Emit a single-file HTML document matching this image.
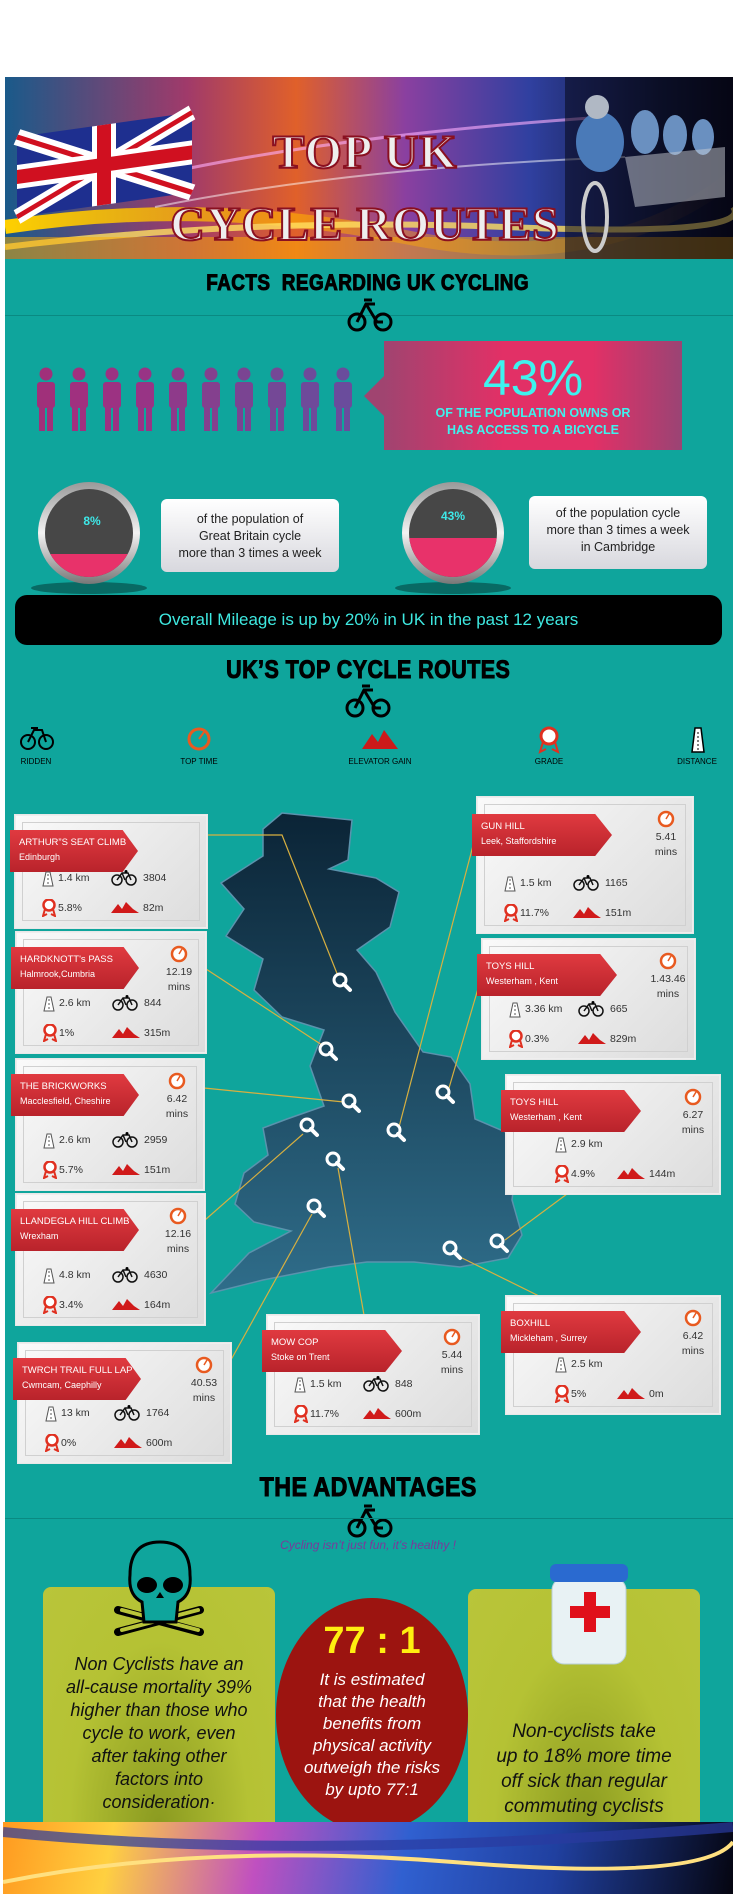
<!DOCTYPE html>
<html><head><meta charset="utf-8">
<style>
*{margin:0;padding:0;box-sizing:border-box}
body{width:736px;height:1900px;background:#fff;position:relative;overflow:hidden;font-family:"Liberation Sans",sans-serif}
.abs{position:absolute}
.teal{left:5px;top:257px;width:728px;height:1570px;background:#0fa59c}
.hd{position:absolute;left:0;width:736px;text-align:center;color:#000}
.hd span{display:inline-block;font-family:"Liberation Sans",sans-serif;font-weight:bold;-webkit-text-stroke:1px #000;transform:scaleX(0.86);letter-spacing:0.5px}
.card{position:absolute;background:linear-gradient(135deg,#fafafa,#dcdcdc);border:1px solid #eee;box-shadow:0 0 0 1px #e8e8e8}
.card .inner{position:absolute;left:6px;top:6px;right:6px;bottom:6px;border:1px solid #d0d0d0}
.rib{position:absolute;left:-6px;height:42px;background:linear-gradient(#e03a40,#b9232b);color:#fff;padding:6px 0 0 9px;font-size:9.5px;line-height:14px;white-space:nowrap;clip-path:polygon(0 0,88% 0,100% 50%,88% 100%,0 100%)}
.rib b{font-weight:normal;display:block}
.rib span{font-size:9px}
.cv{position:absolute;font-size:10.5px;color:#333}
.tm{position:absolute;width:40px;text-align:center;font-size:10.5px;line-height:15px;color:#333}
.bub{position:absolute;background:linear-gradient(#fff,#d8d8de);border-radius:6px;text-align:center;color:#222;font-size:12.5px;line-height:17px}
.gbox{position:absolute;background:radial-gradient(ellipse at 50% 100%,#8a9a20,#b5c234 55%,#b9c53a);border-radius:8px;text-align:center;font-family:"Liberation Sans",sans-serif;font-style:italic;color:#111;font-size:18px;line-height:23px;white-space:nowrap}
</style></head><body>
<div class="abs teal"></div>

<div class="abs" style="left:5px;top:77px;width:728px;height:182px;overflow:hidden;background:linear-gradient(90deg,#1a5a8a 0%,#a03a6a 25%,#e0602a 40%,#8a40a0 55%,#3040a0 72%,#101838 90%,#050510 100%)">
 <svg width="728" height="182" style="position:absolute;left:0;top:0">
  <defs><linearGradient id="yl" x1="0" x2="1"><stop offset="0" stop-color="#ffd000"/><stop offset="1" stop-color="#ff8000" stop-opacity="0"/></linearGradient></defs>
  <path d="M0 150 Q200 120 400 160 T728 100" stroke="url(#yl)" stroke-width="14" fill="none"/>
  <path d="M0 170 Q250 140 500 150 T728 130" stroke="#ffe060" stroke-width="6" fill="none" opacity=".8"/>
  <path d="M100 110 Q300 60 600 40" stroke="#ffb0ff" stroke-width="3" fill="none" opacity=".6"/>
  <path d="M150 130 Q350 90 620 80" stroke="#ffffff" stroke-width="2" fill="none" opacity=".5"/>
  <rect x="0" y="160" width="728" height="22" fill="#ffb000" opacity=".5"/>
  <g transform="translate(12,60) skewY(-8)">
   <rect width="175" height="80" fill="#1e2f8f"/>
   <path d="M0 0L175 80M175 0L0 80" stroke="#fff" stroke-width="16"/>
   <path d="M0 0L175 80M175 0L0 80" stroke="#d01020" stroke-width="5"/>
   <path d="M87 0V80M0 40H175" stroke="#fff" stroke-width="24"/>
   <path d="M87 0V80M0 40H175" stroke="#d01020" stroke-width="14"/>
  </g>
  <g>
   <rect x="560" y="0" width="168" height="182" fill="#080818" opacity=".55"/>
   <ellipse cx="595" cy="65" rx="24" ry="30" fill="#4a7ab8"/>
   <circle cx="592" cy="30" r="12" fill="#b0b8c4"/>
   <ellipse cx="590" cy="140" rx="12" ry="34" fill="none" stroke="#ccc" stroke-width="4"/>
   <ellipse cx="640" cy="55" rx="14" ry="22" fill="#6a90c0"/>
   <ellipse cx="670" cy="58" rx="12" ry="20" fill="#6a90c0"/>
   <ellipse cx="698" cy="60" rx="11" ry="18" fill="#6a90c0"/>
   <path d="M620 80L720 70L720 120L630 130Z" fill="#c8ccd4" opacity=".5"/>
  </g>
 </svg>
 <div style="position:absolute;left:150px;width:420px;text-align:center;top:40px;font-family:'Liberation Serif',serif;font-weight:bold;color:#eee;font-size:48px;line-height:72px;-webkit-text-stroke:2px #8a1020;letter-spacing:1px">TOP UK<br>CYCLE ROUTES</div>
</div>

<div class="hd" style="top:270px;font-size:22px"><span>FACTS &nbsp;REGARDING UK CYCLING</span></div>
<div class="abs" style="left:5px;top:315px;width:728px;height:1px;background:#0a8a82"></div>

<svg class="abs" style="left:0;top:0" width="736" height="1900">
 <defs>
 <g id="bk" fill="none" stroke="#000" stroke-width="3">
  <circle cx="-13" cy="8" r="8"/><circle cx="13" cy="8" r="8"/><path d="M-13 8L-4 -10L5 -10M-4 -10L7 8L13 8M-6 -14L2 -14"/>
 </g>
 </defs>
 <use href="#bk" x="370" y="314"/>
 <use href="#bk" x="368" y="700"/>
 <use href="#bk" x="370" y="1520"/>
</svg>

<svg class="abs" style="left:0;top:360px" width="360" height="80" id="people"></svg>

<div class="abs" style="left:384px;top:341px;width:298px;height:109px;background:linear-gradient(90deg,#a04470,#e23066 40%,#e23066 70%,#9a4474)">
 <div style="position:absolute;left:-20px;top:35px;width:0;height:0;border-top:20px solid transparent;border-bottom:20px solid transparent;border-right:20px solid #a04470"></div>
 <div style="text-align:center;color:#3ef2ee;font-size:50px;line-height:50px;margin-top:12px">43%</div>
 <div style="text-align:center;color:#3ef2ee;font-size:12.5px;font-weight:bold;line-height:17px;margin-top:2px">OF THE POPULATION OWNS OR<br>HAS ACCESS TO A BICYCLE</div>
</div>

<svg class="abs" style="left:0;top:470px" width="736" height="130">
 <defs>
  <linearGradient id="ring" x1="0" y1="0" x2="0" y2="1"><stop offset="0" stop-color="#999"/><stop offset=".5" stop-color="#f2f2f2"/><stop offset="1" stop-color="#777"/></linearGradient>
  <clipPath id="c1"><circle cx="89" cy="63" r="44"/></clipPath>
  <clipPath id="c2"><circle cx="453" cy="63" r="44"/></clipPath>
 </defs>
 <ellipse cx="89" cy="118" rx="58" ry="6" fill="#086a64"/>
 <ellipse cx="453" cy="118" rx="58" ry="6" fill="#086a64"/>
 <circle cx="89" cy="63" r="51" fill="url(#ring)"/>
 <circle cx="89" cy="63" r="44" fill="#474747"/>
 <rect x="40" y="84" width="100" height="40" fill="#e8326a" clip-path="url(#c1)"/>
 <circle cx="453" cy="63" r="51" fill="url(#ring)"/>
 <circle cx="453" cy="63" r="44" fill="#474747"/>
 <rect x="400" y="68" width="100" height="60" fill="#e8326a" clip-path="url(#c2)"/>
 <text x="92" y="55" fill="#3ee8e8" font-size="12" font-weight="bold" text-anchor="middle" font-family="Liberation Sans">8%</text>
 <text x="453" y="50" fill="#3ee8e8" font-size="12" font-weight="bold" text-anchor="middle" font-family="Liberation Sans">43%</text>
</svg>
<div class="bub" style="left:161px;top:499px;width:178px;height:73px;padding-top:12px">of the population of<br>Great Britain cycle<br>more than 3 times a week</div>
<div class="bub" style="left:529px;top:496px;width:178px;height:73px;padding-top:9px">of the population cycle<br>more than 3 times a week<br>in Cambridge</div>

<div class="abs" style="left:15px;top:595px;width:707px;height:50px;background:#000;border-radius:12px;color:#3ee8e0;font-size:17px;text-align:center;line-height:50px">Overall Mileage is up by 20% in UK in the past 12 years</div>

<div class="hd" style="top:656px;font-size:25px"><span>UK’S TOP CYCLE ROUTES</span></div>

<svg class="abs" style="left:0;top:722px" width="736" height="50" font-family="Liberation Sans" font-size="8" text-anchor="middle">
 <g fill="none" stroke="#000" stroke-width="2"><circle cx="28" cy="20" r="7"/><circle cx="46" cy="20" r="7"/><path d="M28 20L34 8L42 8L46 20M31 6L38 6"/></g>
 <text x="36" y="42">RIDDEN</text>
 <circle cx="199" cy="17" r="10" fill="none" stroke="#e85a20" stroke-width="3"/><path d="M199 17L204 10" stroke="#e85a20" stroke-width="2"/>
 <text x="199" y="42">TOP TIME</text>
 <path d="M362 27L372 12L378 20L384 8L398 27Z" fill="#cc1a1a"/>
 <text x="380" y="42">ELEVATOR GAIN</text>
 <circle cx="549" cy="14" r="8" fill="#fff" stroke="#e03020" stroke-width="3"/><path d="M543 20L540 30L546 27M555 20L558 30L552 27" stroke="#e03020" stroke-width="2" fill="none"/>
 <text x="549" y="42">GRADE</text>
 <path d="M692 30L695 6L701 6L704 30Z" fill="#fff" stroke="#000" stroke-width="1.5"/><path d="M698 10V28" stroke="#000" stroke-dasharray="2 2"/>
 <text x="697" y="42">DISTANCE</text>
</svg>

<svg class="abs" style="left:0;top:0" width="736" height="1900" id="mapsvg">
 <defs><linearGradient id="mg" x1="0" y1="0" x2="0" y2="1"><stop offset="0" stop-color="#0b2436"/><stop offset="1" stop-color="#2f6d8a"/></linearGradient></defs>
 <path fill="url(#mg)" stroke="#5a93ad" stroke-width="1.5" d="M282 813L352 820L348 860L329 869L376 878L399 892L390 927L357 950L376 972L395 1012L423 1052L451 1057L470 1084L475 1119L508 1133L517 1159L512 1200L522 1235L508 1258L460 1267L414 1262L367 1262L329 1267L263 1280L211 1293L249 1253L291 1231L254 1222L235 1204L244 1173L268 1155L263 1128L287 1119L324 1106L310 1066L324 1030L282 1017L254 990L263 959L226 936L244 909L221 883L263 856L263 829Z"/>
 <g id="lines" stroke="#d8b040" stroke-width="1.2" fill="none"></g>
 <g id="pins"></g>
</svg>

<div id="cards"></div>

<div class="hd" style="top:1472px;font-size:27px"><span>THE ADVANTAGES</span></div>
<div class="abs" style="left:5px;top:1518px;width:728px;height:1px;background:#0a8a82"></div>
<div class="abs" style="left:0;width:736px;top:1538px;text-align:center;color:#7a3a9a;font-size:12px;font-style:italic">Cycling isn’t just fun, it’s healthy !</div>

<div class="gbox" style="left:43px;top:1587px;width:232px;height:243px;padding-top:66px">Non Cyclists have an<br>all-cause mortality 39%<br>higher than those who<br>cycle to work, even<br>after taking other<br>factors into<br>consideration·</div>
<div class="gbox" style="left:468px;top:1589px;width:232px;height:243px;padding-top:130px;font-size:19px;line-height:25px">Non-cyclists take<br>up to 18% more time<br>off sick than regular<br>commuting cyclists</div>

<svg class="abs" style="left:100px;top:1540px" width="120" height="100">
 <path d="M18 70L100 92M100 70L18 92" stroke="#000" stroke-width="8" stroke-linecap="round"/>
 <path d="M22 70L98 90M98 70L22 90" stroke="#b9c53a" stroke-width="4" stroke-linecap="round"/>
 <path d="M30 35Q30 2 60 2Q90 2 90 35Q92 55 78 62L76 82L44 82L42 62Q28 55 30 35Z" fill="#0fa59c" stroke="#000" stroke-width="3"/>
 <ellipse cx="47" cy="45" rx="10" ry="8" fill="#000"/><ellipse cx="73" cy="45" rx="10" ry="8" fill="#000"/>
 <path d="M56 58L60 52L64 58Z" fill="#000"/>
</svg>
<svg class="abs" style="left:548px;top:1562px" width="82" height="104">
 <rect x="4" y="16" width="74" height="86" rx="12" fill="#e8f2f4" stroke="#b8cfd6"/>
 <rect x="2" y="2" width="78" height="18" rx="6" fill="#2a6ad0"/>
 <path d="M28 42h14v-14h12v14h14v12h-14v14h-12v-14h-14z" transform="translate(-6,2)" fill="#e0101a"/>
</svg>

<svg class="abs" style="left:275px;top:1597px" width="194" height="236">
 <ellipse cx="97" cy="118" rx="96" ry="117" fill="#9c1410"/>
 <text x="97" y="56" fill="#ffee10" font-size="38" font-weight="bold" text-anchor="middle" font-family="Liberation Sans">77 : 1</text>
 <g fill="#fff" font-size="17" font-style="italic" text-anchor="middle" font-family="Liberation Sans">
  <text x="97" y="88">It is estimated</text><text x="97" y="110">that the health</text><text x="97" y="132">benefits from</text><text x="97" y="154">physical activity</text><text x="97" y="176">outweigh the risks</text><text x="97" y="198">by upto 77:1</text>
 </g>
</svg>

<div class="abs" style="left:3px;top:1822px;width:730px;height:72px;background:linear-gradient(100deg,#ff9a20 0%,#ffd040 15%,#c050c0 35%,#3060d0 55%,#2040a0 75%,#050510 100%)">
 <svg width="730" height="72"><path d="M0 60Q200 20 450 40T730 20" stroke="#ffe080" stroke-width="4" fill="none"/><path d="M0 10Q300 40 730 5" stroke="#2a3aa0" stroke-width="10" fill="none" opacity=".7"/></svg>
</div>

<script>
const peopleCount = [1,2,3,4,5,6,7,8,9,10];
const peopleColors = ['#a0307a','#a0307f','#9c3282','#983485','#8e3a8a','#84408e','#7a4492','#744896','#6e4a9a','#6a4c9c'];
const ps = document.getElementById('people');
peopleCount.forEach((p,i)=>{
  const cx = 46 + i*33;
  const g = document.createElementNS('http://www.w3.org/2000/svg','g');
  
  
  g.setAttribute('fill',peopleColors[i]);
  g.innerHTML = `<circle cx="${cx}" cy="14" r="6.5"/><rect x="${cx-9}" y="22" width="18" height="26" rx="3"/><rect x="${cx-7}" y="44" width="6" height="27"/><rect x="${cx+1}" y="44" width="6" height="27"/>`;
  ps.appendChild(g);
});

const routeNames = ["ARTHUR\u201DS SEAT CLIMB","HARDKNOTT's PASS","THE BRICKWORKS","LLANDEGLA HILL CLIMB","TWRCH TRAIL FULL LAP","MOW COP","GUN HILL","TOYS HILL","TOYS HILL","BOXHILL"];
const routePlaces = ["Edinburgh","Halmrook,Cumbria","Macclesfield, Cheshire","Wrexham","Cwmcam, Caephilly","Stoke on Trent","Leek, Staffordshire","Westerham , Kent","Westerham , Kent","Mickleham , Surrey"];
const routeTimes = ["","12.19","6.42","12.16","40.53","5.44","5.41","1.43.46","6.27","6.42"];
const routeDistance = ["1.4 km","2.6 km","2.6 km","4.8 km","13 km","1.5 km","1.5 km","3.36 km","2.9 km","2.5 km"];
const routeRidden = ["3804","844","2959","4630","1764","848","1165","665","",""];
const routeGrade = ["5.8%","1%","5.7%","3.4%","0%","11.7%","11.7%","0.3%","4.9%","5%"];
const routeElev = ["82m","315m","151m","164m","600m","600m","151m","829m","144m","0m"];
const boxes = [[15,815,192,113],[16,932,190,121],[16,1059,188,131],[16,1194,189,131],[18,1343,213,120],[267,1315,212,119],[477,797,216,136],[482,939,213,120],[506,1075,214,119],[506,1296,214,118]];
const pins = [[343,983],[329,1052],[352,1104],[310,1128],[397,1133],[446,1095],[336,1162],[317,1209],[453,1251],[500,1244]];
const links = [["207,835 282,835 338,976"],["206,969 322,1045"],["204,1088 344,1102"],["205,1220 303,1134"],["227,1367 312,1214"],["364,1315 338,1168"],["475,838 399,1127"],["482,975 449,1088"],["567,1194 505,1240"],["539,1296 458,1256"]];

const road = '<svg width="12" height="16" style="position:absolute"><path d="M1 15L4 1L8 1L11 15Z" fill="#fff" stroke="#555"/><path d="M6 3V14" stroke="#555" stroke-dasharray="2 2"/></svg>';
const bike = '<svg width="26" height="16" style="position:absolute"><g fill="none" stroke="#111" stroke-width="1.5"><circle cx="6" cy="10" r="5"/><circle cx="20" cy="10" r="5"/><path d="M6 10L11 3L17 3L20 10M11 3L14 10"/></g><circle cx="15" cy="1.5" r="1.5"/></svg>';
const ros = '<svg width="14" height="18" style="position:absolute"><path d="M3 10L1 17L5 15M11 10L13 17L9 15" stroke="#e03020" stroke-width="2" fill="none"/><circle cx="7" cy="6" r="5.5" fill="#fff" stroke="#e03020" stroke-width="2.5"/></svg>';
const mtn = '<svg width="28" height="12" style="position:absolute"><path d="M0 12L7 3L11 8L15 1L22 8L28 12Z" fill="#d01a1a"/></svg>';
const clk = '<svg width="18" height="18" style="position:absolute"><circle cx="9" cy="9" r="7" fill="#fff" stroke="#e85a20" stroke-width="2.5"/><path d="M9 9L12 4" stroke="#e85a20" stroke-width="1.5"/></svg>';

const wrap = document.getElementById('cards');
boxes.forEach((b,i)=>{
  const [x,y,w,h] = b;
  const c = document.createElement('div');
  c.className='card';
  
  
  c.style.cssText=`left:${x}px;top:${y}px;width:${w}px;height:${h}px`;
  const r1 = h-50, r2 = h-20;
  let html = `<div class="inner"></div><div class="rib" style="top:${i==6?16:14}px;width:${i>=5?140:128}px"><b>${routeNames[i]}</b><span>${routePlaces[i]}</span></div>`;
  if(routeTimes[i]){
    const tx = w-48;
    html += `<div style="position:absolute;left:${tx+11}px;top:12px">${clk}</div><div class="tm" style="left:${tx}px;top:32px">${routeTimes[i]}<br>mins</div>`;
  }
  const lx = i>=8?48:26, bx = i>=8?110:95;
  html += `<div style="position:absolute;left:${lx}px;top:${r1-8}px">${road}</div><div class="cv" style="left:${lx+16}px;top:${r1-7}px">${routeDistance[i]}</div>`;
  if(routeRidden[i]) html += `<div style="position:absolute;left:${bx}px;top:${r1-9}px">${bike}</div><div class="cv" style="left:${bx+32}px;top:${r1-7}px">${routeRidden[i]}</div>`;
  html += `<div style="position:absolute;left:${lx}px;top:${r2-10}px">${ros}</div><div class="cv" style="left:${lx+16}px;top:${r2-7}px">${routeGrade[i]}</div>`;
  html += `<div style="position:absolute;left:${bx}px;top:${r2-8}px">${mtn}</div><div class="cv" style="left:${bx+32}px;top:${r2-7}px">${routeElev[i]}</div>`;
  c.innerHTML = html;
  wrap.appendChild(c);
});
const lg = document.getElementById('lines');
const pg = document.getElementById('pins');
links.forEach((l)=>{
  const p = document.createElementNS('http://www.w3.org/2000/svg','polyline');
  
  
  p.setAttribute('points',l[0]);
  lg.appendChild(p);
});
pins.forEach((p)=>{
  const g = document.createElementNS('http://www.w3.org/2000/svg','g');
  
  
  g.innerHTML = `<circle cx="${p[0]-3}" cy="${p[1]-3}" r="6" fill="none" stroke="#fff" stroke-width="3"/><path d="M${p[0]+1} ${p[1]+1}L${p[0]+7} ${p[1]+7}" stroke="#fff" stroke-width="4" stroke-linecap="round"/>`;
  pg.appendChild(g);
});
</script>
</body></html>
